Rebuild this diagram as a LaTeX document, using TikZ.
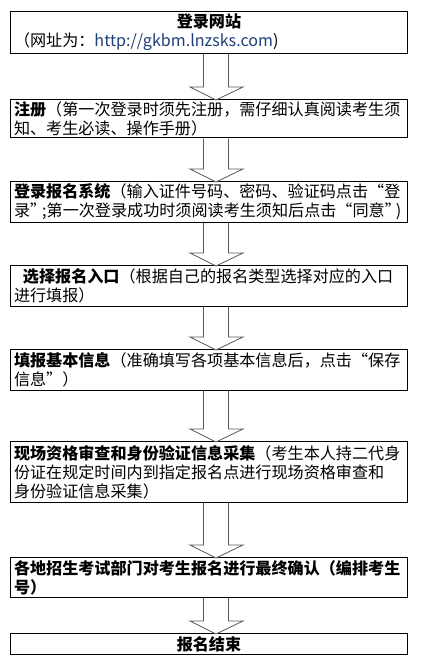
\documentclass[tikz,border=0pt]{standalone}
\usepackage{fontspec}
\setmainfont{Noto Sans CJK SC}
\usetikzlibrary{calc}
\definecolor{bleuurl}{HTML}{1F3F7A}

\begin{document}
\begin{tikzpicture}[x=1pt, y=-1pt]
% styles des cadres et des flèches
\tikzstyle{cadre}=[rectangle, draw=black, fill=white, line width=0.8pt, anchor=north, minimum width=397pt, text width=390pt, inner xsep=3.5pt, inner ysep=2pt, align=left, font=\fontsize{16.1}{19}\selectfont]
\tikzstyle{fleche}=[draw=black!65, fill=white, line width=0.8pt, line join=miter]

\useasboundingbox (0,0) rectangle (423,665);

% les cadres
\node[cadre, minimum height=42pt] (LS) at (209,11) {\centering\textbf{登录网站}\\ （网址为：{\color{bleuurl}http://gkbm.lnzsks.com})};
\node[cadre, minimum height=38pt] (ZC) at (209,99) {\textbf{注册}（第一次登录时须先注册，需仔细认真阅读考生须\\知、考生必读、操作手册）};
\node[cadre, minimum height=41pt] (XT) at (209,181) {\textbf{登录报名系统}（输入证件号码、密码、验证码点击“登\\录”\kern-4pt;第一次登录成功时须阅读考生须知后点击“同意”\kern-5pt)};
\node[cadre, minimum height=41pt] (RK) at (209,265) {\hspace{9pt}\textbf{选择报名入口}（根据自己的报名类型选择对应的入口\\进行填报）};
\node[cadre, minimum height=41pt] (XX) at (209,349) {\textbf{填报基本信息}（准确填写各项基本信息后，点击“保存\\信息”）};
\node[cadre, minimum height=61pt] (ZG) at (209,441) {\textbf{现场资格审查和身份验证信息采集}（考生本人持二代身\\份证在规定时间内到指定报名点进行现场资格审查和\\身份验证信息采集）};
\node[cadre, minimum height=40pt] (QR) at (209,557) {\textbf{各地招生考试部门对考生报名进行最终确认（编排考生\\号）}};
\node[cadre, minimum height=21pt, align=center] (JS) at (209,633) {\textbf{报名结束}};

% les grosses flèches
\foreach \a/\b in {LS/ZC, ZC/XT, XT/RK, RK/XX, XX/ZG, ZG/QR, QR/JS}
  \draw[fleche] ([xshift=-5.5pt, yshift=-0.4pt]\a.south) -- ([xshift=-5.5pt, yshift=12pt]\b.north) -- ([xshift=-19pt, yshift=12pt]\b.north) -- ([xshift=7pt, yshift=-1pt]\b.north) -- ([xshift=34pt, yshift=12pt]\b.north) -- ([xshift=19.5pt, yshift=12pt]\b.north) -- ([xshift=19.5pt, yshift=-0.4pt]\a.south);
\end{tikzpicture}
\end{document}
